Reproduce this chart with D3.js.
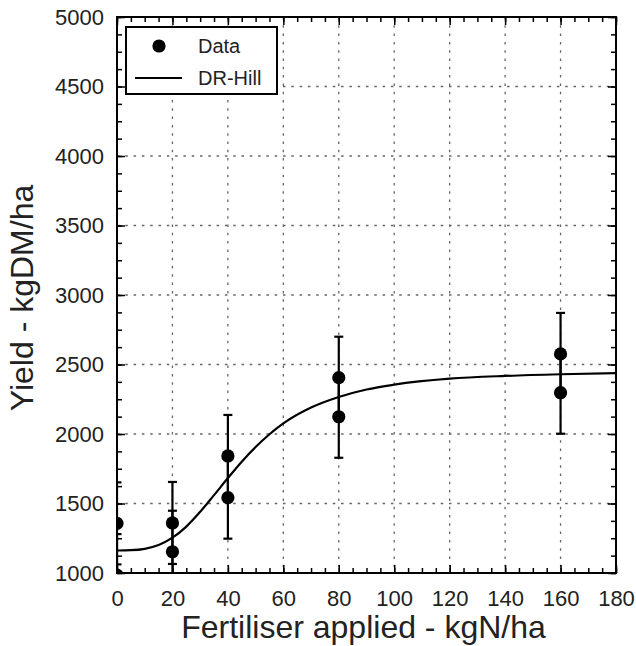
<!DOCTYPE html>
<html>
<head>
<meta charset="utf-8">
<script src="https://cdn.jsdelivr.net/npm/d3@7"></script>
<style>
  body { margin: 0; background: #fff; }
  svg { display: block; font-family: "Liberation Sans", Arial, sans-serif; }
</style>
</head>
<body>
<div id="viz"></div>
<script>
// observed yields (two plots per N rate), with error bar half-width
const doses = [0, 0, 20, 20, 40, 40, 80, 80, 160, 160];
const yields = [1357, 985, 1360, 1153, 1842, 1542, 2405, 2124, 2576, 2297];
const yieldErr = [295, 295, 295, 295, 295, 295, 295, 295, 295, 295];

// fitted DR-Hill curve
const curveX = [0, 5, 10, 15, 20, 25, 30, 35, 40, 45, 50, 55, 60, 70, 80, 90, 100, 120, 140, 160, 180];
const curveY = [1162, 1164, 1174, 1201, 1254, 1334, 1440, 1560, 1683, 1801, 1906, 1998, 2076, 2190, 2266, 2320, 2355, 2398, 2418, 2430, 2438];

const xTicks = [0, 20, 40, 60, 80, 100, 120, 140, 160, 180];
const yTicks = [1000, 1500, 2000, 2500, 3000, 3500, 4000, 4500, 5000];

const legendLabels = ['Data', 'DR-Hill'];
const xTitle = 'Fertiliser applied - kgN/ha';
const yTitle = 'Yield - kgDM/ha';

const OUTER_WIDTH = 636;
const OUTER_HEIGHT = 646;
const MARGIN = {
  top: 17, right: 20, bottom: 73, left: 117
};
const width = OUTER_WIDTH - MARGIN.left - MARGIN.right;
const height = OUTER_HEIGHT - MARGIN.top - MARGIN.bottom;

const svg = d3.select('#viz')
  .append('svg')
  .attr('width', OUTER_WIDTH)
  .attr('height', OUTER_HEIGHT);

const x = d3.scaleLinear().domain([0, 180]).range([0, width]);
const y = d3.scaleLinear().domain([1000, 5000]).range([height, 0]);

const inner = svg.append('g')
  .attr('transform', `translate(${MARGIN.left}, ${MARGIN.top})`);

svg.append('defs')
  .append('clipPath')
  .attr('id', 'plot-clip')
  .append('rect')
  .attr('width', width)
  .attr('height', height);

// dotted grid at the major ticks
const grid = inner.append('g')
  .attr('stroke', '#666')
  .attr('stroke-width', 1.3)
  .attr('stroke-dasharray', '2.5,5.8');
grid.selectAll('.vgrid')
  .data(xTicks.slice(1, -1))
  .enter()
  .append('line')
  .attr('x1', d => x(d))
  .attr('x2', d => x(d))
  .attr('y1', 0)
  .attr('y2', height);
grid.selectAll('.hgrid')
  .data(yTicks.slice(1, -1))
  .enter()
  .append('line')
  .attr('x1', 0)
  .attr('x2', width)
  .attr('y1', d => y(d))
  .attr('y2', d => y(d));

// axes: inward ticks on all four sides
const xMinor = d3.range(0, 181, 5);
const yMinor = d3.range(1000, 5001, 125);

function styleAxis(g) {
  g.select('.domain').remove();
  g.selectAll('.tick line').attr('stroke', '#000').attr('stroke-width', 1.5);
  g.selectAll('.tick text')
    .attr('fill', '#222')
    .style('font-size', '22px');
}

const axes = inner.append('g');
axes.append('g')
  .attr('transform', `translate(0, ${height})`)
  .call(d3.axisBottom(x).tickValues(xMinor).tickSize(-5).tickFormat(''))
  .call(styleAxis);
axes.append('g')
  .attr('transform', `translate(0, ${height})`)
  .call(d3.axisBottom(x).tickValues(xTicks).tickSize(-8).tickPadding(17).tickFormat(d3.format('d')))
  .call(styleAxis);
axes.append('g')
  .call(d3.axisTop(x).tickValues(xMinor).tickSize(-5).tickFormat(''))
  .call(styleAxis);
axes.append('g')
  .call(d3.axisTop(x).tickValues(xTicks).tickSize(-8).tickFormat(''))
  .call(styleAxis);
axes.append('g')
  .call(d3.axisLeft(y).tickValues(yMinor).tickSize(-5).tickFormat(''))
  .call(styleAxis);
axes.append('g')
  .call(d3.axisLeft(y).tickValues(yTicks).tickSize(-8).tickPadding(13).tickFormat(d3.format('d')))
  .call(styleAxis);
axes.append('g')
  .attr('transform', `translate(${width}, 0)`)
  .call(d3.axisRight(y).tickValues(yMinor).tickSize(-5).tickFormat(''))
  .call(styleAxis);
axes.append('g')
  .attr('transform', `translate(${width}, 0)`)
  .call(d3.axisRight(y).tickValues(yTicks).tickSize(-8).tickFormat(''))
  .call(styleAxis);

// marks, clipped to the plot area
const plot = inner.append('g').attr('clip-path', 'url(#plot-clip)');

const curve = d3.line()
  .curve(d3.curveMonotoneX)
  .x(d => x(d[0]))
  .y(d => y(d[1]));
plot.append('path')
  .datum(d3.zip(curveX, curveY))
  .attr('fill', 'none')
  .attr('stroke', '#000')
  .attr('stroke-width', 2.2)
  .attr('d', curve);

const pts = d3.range(doses.length);
const bars = plot.append('g')
  .attr('stroke', '#000')
  .attr('stroke-width', 2.2);
bars.selectAll('.err')
  .data(pts)
  .enter()
  .append('line')
  .attr('x1', i => x(doses[i]))
  .attr('x2', i => x(doses[i]))
  .attr('y1', i => y(yields[i] - yieldErr[i]))
  .attr('y2', i => y(yields[i] + yieldErr[i]));
[-1, 1].forEach((s) => {
  bars.selectAll(`.cap${s}`)
    .data(pts)
    .enter()
    .append('line')
    .attr('x1', i => x(doses[i]) - 4.5)
    .attr('x2', i => x(doses[i]) + 4.5)
    .attr('y1', i => y(yields[i] + s * yieldErr[i]))
    .attr('y2', i => y(yields[i] + s * yieldErr[i]));
});

plot.selectAll('.dot')
  .data(pts)
  .enter()
  .append('circle')
  .attr('cx', i => x(doses[i]))
  .attr('cy', i => y(yields[i]))
  .attr('r', 6.6)
  .attr('fill', '#000');

// frame
inner.append('rect')
  .attr('width', width)
  .attr('height', height)
  .attr('fill', 'none')
  .attr('stroke', '#000')
  .attr('stroke-width', 2);

// legend
const legend = inner.append('g')
  .attr('transform', 'translate(9, 10)');
legend.append('rect')
  .attr('width', 151)
  .attr('height', 67)
  .attr('fill', '#fff')
  .attr('stroke', '#000')
  .attr('stroke-width', 2);
legend.append('circle')
  .attr('cx', 33)
  .attr('cy', 19)
  .attr('r', 6.6)
  .attr('fill', '#000');
legend.append('line')
  .attr('x1', 9)
  .attr('x2', 56)
  .attr('y1', 51)
  .attr('y2', 51)
  .attr('stroke', '#000')
  .attr('stroke-width', 2);
legend.selectAll('.lab')
  .data(legendLabels)
  .enter()
  .append('text')
  .attr('x', 72)
  .attr('y', (d, i) => 19 + i * 32)
  .attr('dy', '0.36em')
  .attr('fill', '#222')
  .style('font-size', '20px')
  .text(d => d);

// axis titles
svg.append('text')
  .attr('x', MARGIN.left + width / 2 - 3)
  .attr('y', 638)
  .attr('text-anchor', 'middle')
  .attr('fill', '#222')
  .style('font-size', '32px')
  .text(xTitle);
svg.append('text')
  .attr('transform', `translate(33, ${MARGIN.top + 281}) rotate(-90)`)
  .attr('text-anchor', 'middle')
  .attr('fill', '#222')
  .style('font-size', '32px')
  .text(yTitle);
</script>
</body>
</html>
